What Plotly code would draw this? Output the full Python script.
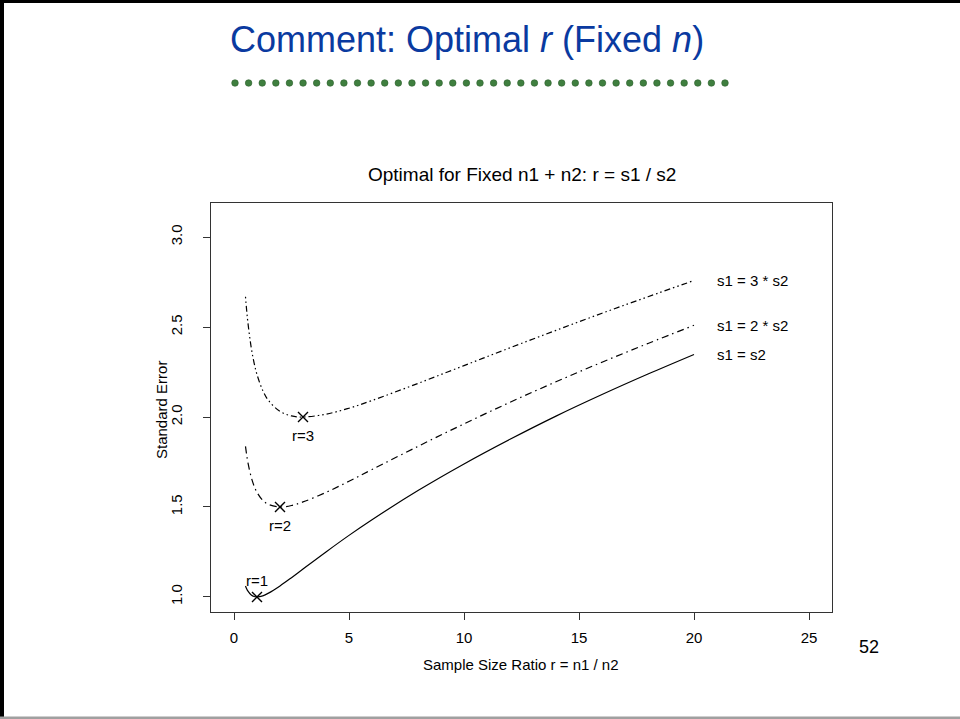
import plotly.graph_objects as go

W, H = 960, 719

# ---- data ----
r_vals = [0.5, 0.55, 0.6, 0.75, 0.875, 1, 1.25, 1.5, 2, 2.5, 3, 4, 5, 6, 8, 10, 12, 14, 16, 18, 20]
se_equal = [1.061, 1.045, 1.033, 1.010, 1.002, 1.000, 1.006, 1.021, 1.061, 1.107, 1.155, 1.250,
            1.342, 1.429, 1.591, 1.739, 1.876, 2.005, 2.125, 2.239, 2.348]
se_two = [1.837, 1.790, 1.751, 1.665, 1.616, 1.581, 1.537, 1.514, 1.500, 1.508, 1.528, 1.581,
          1.643, 1.708, 1.837, 1.962, 2.082, 2.196, 2.305, 2.409, 2.510]
se_three = [2.669, 2.594, 2.530, 2.385, 2.300, 2.236, 2.148, 2.092, 2.031, 2.006, 2.000, 2.016,
            2.049, 2.092, 2.187, 2.286, 2.385, 2.482, 2.577, 2.669, 2.759]

opt_r = [1, 2, 3]
opt_se = [1.0, 1.5, 2.0]
opt_labels = ["r=1", "r=2", "r=3"]
opt_label_y = [1.08, 1.39, 1.89]

curve_labels = ["s1 = s2", "s1 = 2 * s2", "s1 = 3 * s2"]
curve_label_y = [2.34, 2.50, 2.75]
curve_label_x = 21

x_ticks = [0, 5, 10, 15, 20, 25]
y_ticks = [1.0, 1.5, 2.0, 2.5, 3.0]
y_ticktext = ["1.0", "1.5", "2.0", "2.5", "3.0"]

FONT = "Liberation Sans, Arial, sans-serif"
FS = 15


def px(x):
    return x / W


def py(y):
    return 1 - y / H


fig = go.Figure()

dashes = ["solid", "7px,4px,1.5px,4px", "1.5px,3px,1.5px,3px,6px,3px"]
for ys, d in zip([se_equal, se_two, se_three], dashes):
    fig.add_trace(go.Scatter(
        x=r_vals, y=ys, mode="lines",
        line=dict(color="black", width=1.2, shape="spline", smoothing=1.0, dash=d),
        hoverinfo="skip", showlegend=False,
    ))

fig.add_trace(go.Scatter(
    x=opt_r, y=opt_se, mode="markers",
    marker=dict(symbol="x-thin", size=10, line=dict(color="black", width=1.4)),
    showlegend=False, hoverinfo="skip",
))
fig.add_trace(go.Scatter(
    x=opt_r, y=opt_label_y, mode="text", text=opt_labels,
    textfont=dict(family=FONT, size=FS, color="black"),
    textposition="middle center", showlegend=False, hoverinfo="skip",
))
fig.add_trace(go.Scatter(
    x=[curve_label_x] * 3, y=curve_label_y, mode="text", text=curve_labels,
    textfont=dict(family=FONT, size=FS, color="black"),
    textposition="middle right", showlegend=False, hoverinfo="skip",
))

x_dom = [px(211), px(832)]
y_dom = [py(612), py(203)]

fig.update_layout(
    width=W, height=H,
    margin=dict(l=0, r=0, t=0, b=0),
    paper_bgcolor="white", plot_bgcolor="white",
    font=dict(family=FONT, color="black"),
    xaxis=dict(
        domain=x_dom, range=[-1, 26], tickvals=x_ticks,
        ticks="outside", ticklen=7, tickwidth=1, tickcolor="#333",
        showline=True, mirror=True, linecolor="#333", linewidth=1,
        showgrid=False, zeroline=False, ticklabelstandoff=5,
        tickfont=dict(family=FONT, size=FS, color="black"),
    ),
    yaxis=dict(
        domain=y_dom, range=[0.916, 3.19], tickvals=y_ticks, ticktext=y_ticktext,
        ticks="outside", ticklen=7, tickwidth=1, tickcolor="#333",
        showline=True, mirror=True, linecolor="#333", linewidth=1,
        showgrid=False, zeroline=False, tickangle=-90, ticklabelstandoff=15,
        tickfont=dict(family=FONT, size=FS, color="black"),
    ),
)

annotations = [
    dict(text="Comment: Optimal <i>r</i> (Fixed <i>n</i>)", x=px(467), y=py(40),
         font=dict(family=FONT, size=36, color="#0a3aa0")),
    dict(text="Optimal for Fixed n1 + n2: r = s1 / s2", x=px(522), y=py(174),
         font=dict(family=FONT, size=19, color="black")),
    dict(text="Sample Size Ratio r = n1 / n2", x=px(521), y=py(664),
         font=dict(family=FONT, size=FS, color="black")),
    dict(text="Standard Error", x=px(161), y=py(410), textangle=-90,
         font=dict(family=FONT, size=FS, color="black")),
    dict(text="52", x=px(869), y=py(647),
         font=dict(family=FONT, size=18, color="black")),
]
for a in annotations:
    a.update(xref="paper", yref="paper", showarrow=False, xanchor="center", yanchor="middle")
fig.update_layout(annotations=annotations)

# slide decorations: border and dotted rule under the title
shapes = [
    dict(type="rect", x0=0, x1=px(960), y0=py(0), y1=py(3), fillcolor="black", line=dict(width=0)),
    dict(type="rect", x0=0, x1=px(4), y0=py(0), y1=py(719), fillcolor="black", line=dict(width=0)),
    dict(type="rect", x0=0, x1=1, y0=py(719), y1=py(716.5), fillcolor="#a0a0a0", line=dict(width=0)),
]
n_dots = 37
x_first, x_last, y_dot, rad = 235, 725, 83, 3.3
for i in range(n_dots):
    cx = x_first + (x_last - x_first) * i / (n_dots - 1)
    shapes.append(dict(type="circle",
                       x0=px(cx - rad), x1=px(cx + rad), y0=py(y_dot + rad), y1=py(y_dot - rad),
                       fillcolor="#3f7f3f", line=dict(color="#2d5f2d", width=0.6)))
for s in shapes:
    s.setdefault("xref", "paper")
    s.setdefault("yref", "paper")
fig.update_layout(shapes=shapes)

fig.write_html("out.html")
